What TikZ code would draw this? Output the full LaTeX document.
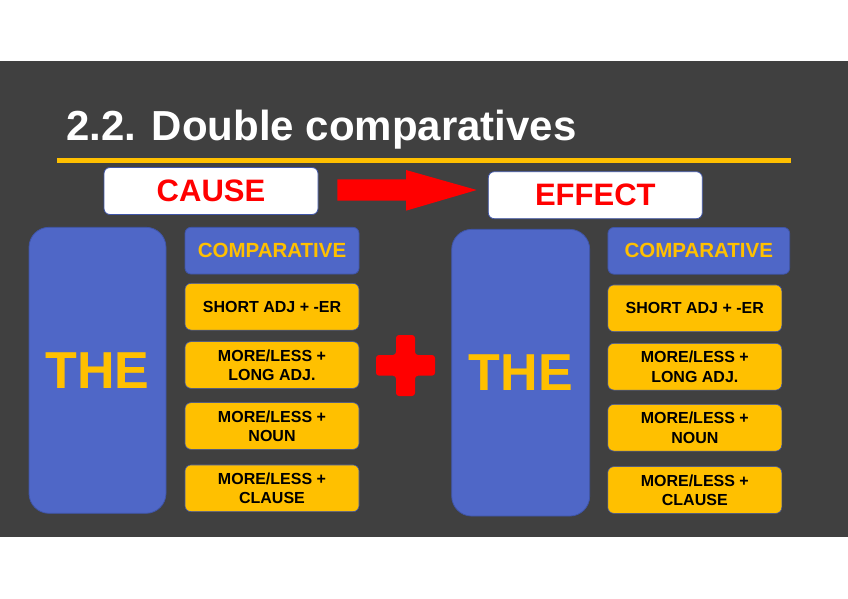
\documentclass[tikz,border=0pt]{standalone}
\usepackage{fontspec}
\setmainfont{Liberation Sans}
\definecolor{panel}{HTML}{404040}
\definecolor{bluebox}{HTML}{4F67C7}
\definecolor{edgeblue}{HTML}{3F55A8}
\definecolor{gold}{HTML}{FFC000}
\definecolor{redc}{HTML}{FF0000}
\tikzset{
  thebox/.style={rectangle, rounded corners=20pt, fill=bluebox, draw=edgeblue, line width=0.8pt,
     text=gold, font=\fontsize{52}{52}\selectfont\bfseries, inner sep=0pt},
  compbox/.style={rectangle, rounded corners=6pt, fill=bluebox, draw=edgeblue, line width=0.8pt,
     minimum height=46.7pt, text=gold, font=\fontsize{20.5}{20.5}\selectfont\bfseries, inner sep=0pt},
  ybox/.style={rectangle, rounded corners=6pt, fill=gold, draw=edgeblue, line width=0.6pt,
     minimum width=174pt, minimum height=46.7pt, text=black, align=center,
     font=\fontsize{16}{19.3}\selectfont\bfseries, inner sep=0pt},
  labbox/.style={rectangle, rounded corners=6pt, fill=white, draw=edgeblue, line width=0.8pt,
     minimum width=214pt, minimum height=47pt, text=redc, font=\fontsize{31}{31}\selectfont\bfseries, inner sep=0pt},
}
\begin{document}
\begin{tikzpicture}[x=1pt,y=-1pt]
\useasboundingbox (0,0) rectangle (848,599);
\fill[white] (0,0) rectangle (848,599);
\fill[panel] (0,61) rectangle (848,537);
% title
\node[anchor=base west, inner sep=0pt, text=white, font=\fontsize{42}{42}\selectfont\bfseries] (title) at (66,140.7) {2.2. Double comparatives};
\coordinate (ruleL) at (57,160.7);
\coordinate (ruleR) at (791,160.7);
\draw[gold, line width=4.5pt] (ruleL) -- (ruleR);
% cause / effect
\node[labbox] (cause) at (211,191) {CAUSE};
\node[labbox] (effect) at (595.3,195.2) {EFFECT};
% arrow
\fill[redc] (337.3,179.3) -- (406,179.3) -- (406,170) -- (476.7,190) -- (406,210.7) -- (406,200.7) -- (337.3,200.7) -- cycle;
% left group
\node[thebox, minimum width=137pt, minimum height=286pt] (theL) at (97.5,370.3) {THE};
\node[compbox, minimum width=174pt] (compL) at (272,250.7) {COMPARATIVE};
\node[ybox] (shortL) at (272,306.7) {SHORT ADJ + -ER};
\node[ybox] (longL) at (272,365) {MORE/LESS +\\LONG ADJ.};
\node[ybox] (nounL) at (272,426) {MORE/LESS +\\NOUN};
\node[ybox] (clauseL) at (272,488.3) {MORE/LESS +\\CLAUSE};
% plus
\fill[redc, rounded corners=3pt] (396,335) -- (415,335) -- (415,355) -- (435,355) -- (435,375.7) -- (415,375.7) -- (415,396) -- (396,396) -- (396,375.7) -- (376,375.7) -- (376,355) -- (396,355) -- cycle;
% right group
\node[thebox, minimum width=138pt, minimum height=286.7pt] (theR) at (520.7,372.7) {THE};
\node[compbox, minimum width=181.7pt] (compR) at (698.8,250.8) {COMPARATIVE};
\node[ybox] (shortR) at (694.8,308.3) {SHORT ADJ + -ER};
\node[ybox] (longR) at (694.8,366.7) {MORE/LESS +\\LONG ADJ.};
\node[ybox] (nounR) at (694.8,427.7) {MORE/LESS +\\NOUN};
\node[ybox] (clauseR) at (694.8,490) {MORE/LESS +\\CLAUSE};
\end{tikzpicture}
\end{document}
